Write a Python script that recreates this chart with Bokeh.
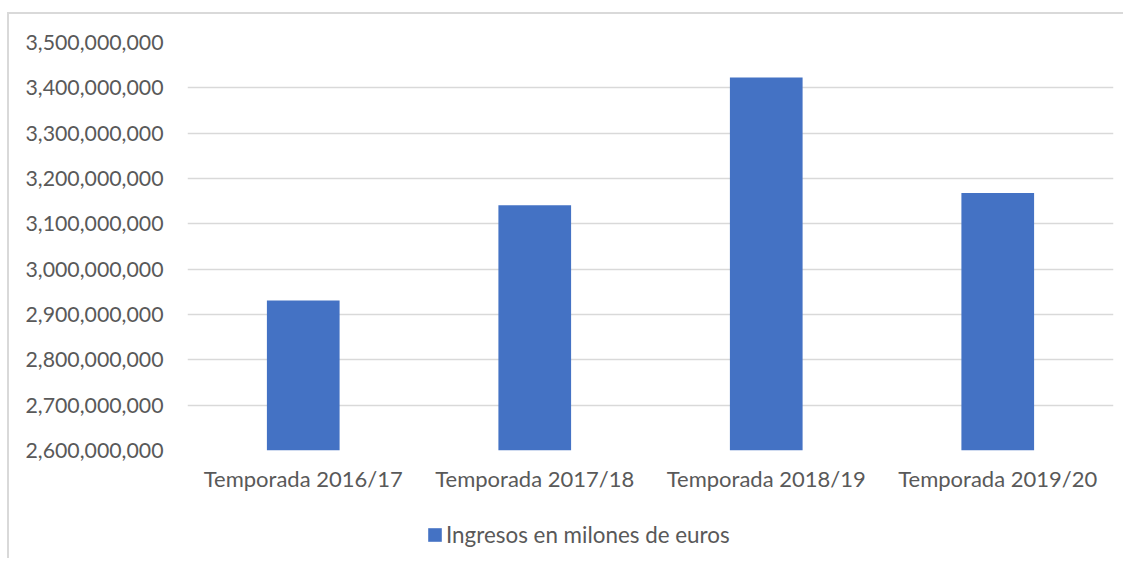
from bokeh.plotting import figure
from bokeh.layouts import column
from bokeh.models import (FactorRange, Range1d, NumeralTickFormatter, FixedTicker,
                          Legend, LegendItem)
from bokeh.embed import file_html
from bokeh.resources import INLINE

categories = ["Temporada 2016/17", "Temporada 2017/18", "Temporada 2018/19", "Temporada 2019/20"]
ingresos = [2931000000, 3141000000, 3423000000, 3168000000]
y_ticks = [2600000000, 2700000000, 2800000000, 2900000000, 3000000000,
           3100000000, 3200000000, 3300000000, 3400000000, 3500000000]
series_name = "Ingresos en milones de euros"

FONT = "Lato"
TXT = "#595959"
GRID = "#D9D9D9"
BAR = "#4472C4"

p = figure(x_range=FactorRange(*categories, range_padding=0),
           y_range=Range1d(2600000000, 3500000000),
           width=1114, height=495,
           min_border_left=178, min_border_right=10,
           min_border_top=28, min_border_bottom=59,
           output_backend="svg", toolbar_location=None)
p.outline_line_color = None

r = p.vbar(x=categories, top=ingresos, bottom=2600000000, width=0.314,
           fill_color=BAR, line_color=None)

p.xgrid.grid_line_color = None
p.ygrid.grid_line_color = GRID
p.ygrid.grid_line_width = 1.5
p.yaxis.ticker = FixedTicker(ticks=y_ticks)
p.yaxis.formatter = NumeralTickFormatter(format="0,0")

for ax in (p.xaxis, p.yaxis):
    ax.axis_line_color = None
    ax.major_tick_line_color = None
    ax.minor_tick_line_color = None
    ax.major_label_text_font = FONT
    ax.major_label_text_color = TXT
p.xaxis.major_label_text_font_size = "22px"
p.yaxis.major_label_text_font_size = "21.3px"
p.yaxis.major_label_standoff = 18
p.xaxis.major_label_standoff = 8

# legend strip below the chart
leg = figure(x_range=FactorRange(*categories, range_padding=0),
             y_range=Range1d(2600000000, 3500000000),
             width=1114, height=49, min_border=0,
             output_backend="svg", toolbar_location=None)
leg.outline_line_color = None
leg.axis.visible = False
leg.grid.visible = False
key = leg.vbar(x=categories, top=ingresos, bottom=2600000000, width=0.314,
               fill_color=BAR, line_color=None, visible=False)

legend = Legend(items=[LegendItem(label=series_name, renderers=[key])],
                location=(239, 10), orientation="horizontal",
                glyph_width=17, glyph_height=17, label_standoff=3,
                label_text_font=FONT, label_text_font_size="22.4px",
                label_text_color=TXT, border_line_color=None,
                background_fill_alpha=0, padding=0, margin=0)
leg.add_layout(legend, "center")

layout = column(p, leg, spacing=0)
layout.margin = (12, 0, 0, 7)
layout.styles = {"border-top": "2px solid #D9D9D9", "border-left": "2px solid #D9D9D9"}

open("out.html", "w").write(file_html(layout, INLINE))
